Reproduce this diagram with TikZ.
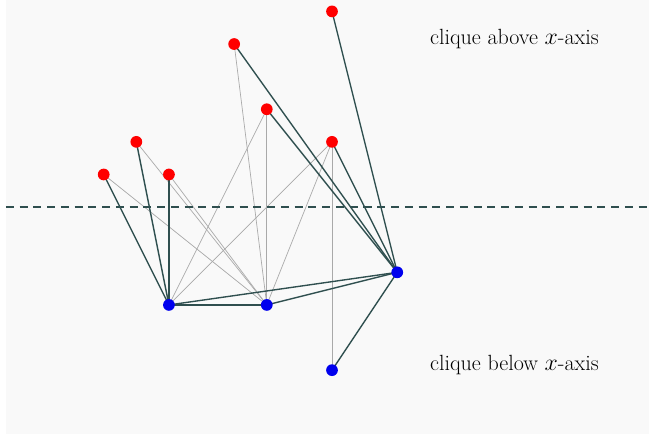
\documentclass[tikz,border=0pt]{standalone}
\usepackage{amsmath,amssymb}
\usepackage{xcolor}
\usetikzlibrary{arrows.meta,positioning,calc,backgrounds}
\definecolor{ink}{HTML}{2F4F4F}
\definecolor{soft}{HTML}{A9A9A9}
\definecolor{upper}{HTML}{FF0000}
\definecolor{lower}{HTML}{0000EE}
\definecolor{paper}{HTML}{F9F9F9}

\begin{document}
\begin{tikzpicture}[
    x=1cm,y=1cm,
    % --- vertices ----------------------------------------------------
    vtx/.style={circle,minimum size=0.36cm,inner sep=0pt},
    up/.style={vtx,fill=upper},
    down/.style={vtx,fill=lower},
    % --- edges -------------------------------------------------------
    clq/.style={draw=ink,line width=1.2pt},
    cross/.style={draw=soft,line width=0.6pt},
    axis/.style={draw=ink,line width=1.1pt,dash pattern=on 7pt off 5pt},
    % --- labels ------------------------------------------------------
    tag/.style={font=\fontsize{19.2}{23}\selectfont,anchor=west,inner sep=0pt},
  ]

% =====================================================================
%  Frame
% =====================================================================
\useasboundingbox (-5.18,-6.96) rectangle (14.72,6.35);
\begin{scope}[on background layer]
  \fill[white] (-5.18,-6.96) rectangle (14.72,6.35);
  \fill[paper] (-5.0,-6.96) rectangle (14.72,6.35);
\end{scope}

% ---- the x-axis -----------------------------------------------------
\coordinate (axl) at (-5.0,0);
\coordinate (axr) at (14.72,0);
\draw[axis] (axl) -- (axr);

% =====================================================================
%  Vertices
% =====================================================================
\node[up] (a1) at (5,6) {};
\node[up] (a2) at (2,5) {};
\node[up] (a3) at (3,3) {};
\node[up] (a4) at (-1,2) {};
\node[up] (a5) at (5,2) {};
\node[up] (a6) at (-2,1) {};
\node[up] (a7) at (0,1) {};

\node[down] (b1) at (0,-3) {};
\node[down] (b2) at (3,-3) {};
\node[down] (b3) at (7,-2) {};
\node[down] (b4) at (5,-5) {};

% =====================================================================
%  Edges
% =====================================================================
\begin{scope}[on background layer]
  % ---- light crossing edges ---------------------------------------
  \draw[cross] (a2.center) -- (b2.center);
  \draw[cross] (a3.center) -- (b1.center);
  \draw[cross] (a3.center) -- (b2.center);
  \draw[cross] (a5.center) -- (b1.center);
  \draw[cross] (a5.center) -- (b2.center);
  \draw[cross] (a5.center) -- (b4.center);
  \draw[cross] (a4.center) -- (b2.center);
  \draw[cross] (a6.center) -- (b2.center);
  \draw[cross] (a7.center) -- (b2.center);
  % ---- dark edges -------------------------------------------------
  \draw[clq] (a1.center) -- (b3.center);
  \draw[clq] (a2.center) -- (b3.center);
  \draw[clq] (a3.center) -- (b3.center);
  \draw[clq] (a5.center) -- (b3.center);
  \draw[clq] (a6.center) -- (b1.center);
  \draw[clq] (a4.center) -- (b1.center);
  \draw[clq] (a7.center) -- (b1.center);
  \draw[clq] (b1.center) -- (b2.center);
  \draw[clq] (b1.center) -- (b3.center);
  \draw[clq] (b2.center) -- (b3.center);
  \draw[clq] (b3.center) -- (b4.center);
\end{scope}

% =====================================================================
%  Labels
% =====================================================================
\node[tag] (above) at (8.0,5.15) {clique above $x$-axis};
\node[tag] (below) at (8.0,-4.85) {clique below $x$-axis};

\end{tikzpicture}
\end{document}
